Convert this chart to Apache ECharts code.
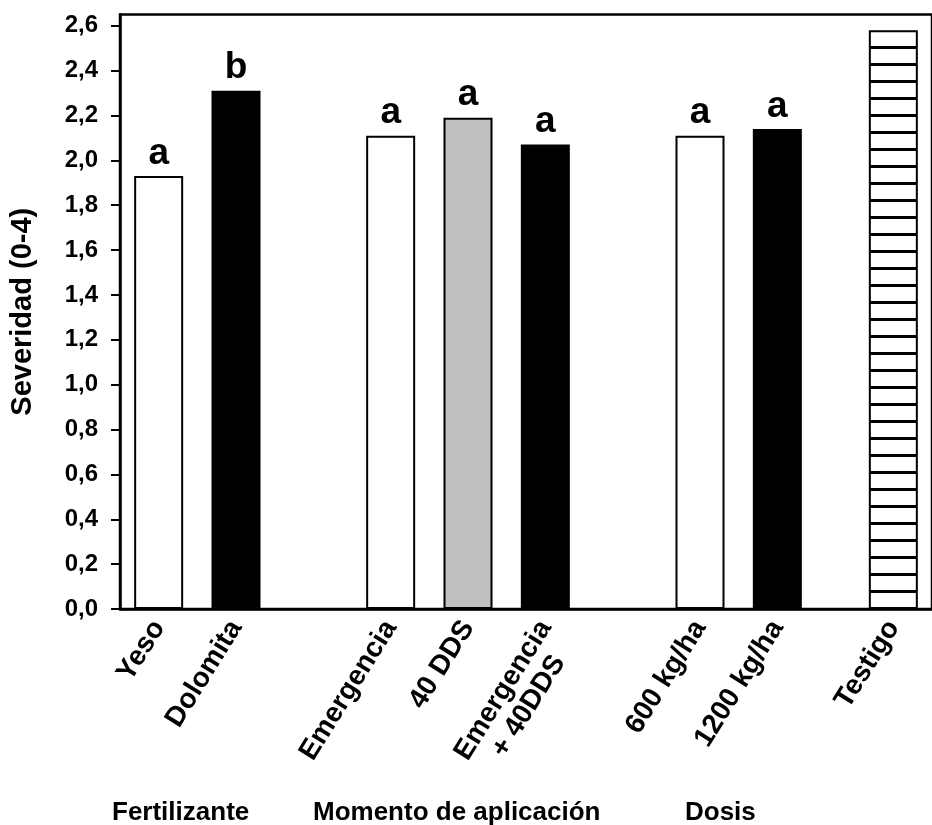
<!DOCTYPE html>
<html>
<head>
<meta charset="utf-8">
<script src="https://cdn.jsdelivr.net/npm/echarts@6/dist/echarts.min.js"></script>
<style>html,body{margin:0;padding:0;background:#fff}#c{width:932px;height:825px}</style>
</head>
<body>
<div id="c"></div>
<script>
// ---- data ----
const categories = ['Yeso', 'Dolomita', 'Emergencia', '40 DDS', 'Emergencia\n+ 40DDS', '600 kg/ha', '1200 kg/ha', 'Testigo'];
const slotPositions = [0, 1, 3, 4, 5, 7, 8, 9.5];
const severity = [1.93, 2.31, 2.11, 2.19, 2.07, 2.11, 2.14, 2.58];
const letters = ['a', 'b', 'a', 'a', 'a', 'a', 'a', ''];
const fills = ['white', 'black', 'white', 'gray', 'black', 'white', 'black', 'stripes'];
const yTicks = [0, 0.2, 0.4, 0.6, 0.8, 1.0, 1.2, 1.4, 1.6, 1.8, 2.0, 2.2, 2.4, 2.6];
const groupLabels = ['Fertilizante', 'Momento de aplicación', 'Dosis'];

// ---- styles ----
const FONT = 'Liberation Sans';
function stripePattern() {
  const cv = document.createElement('canvas');
  cv.width = 8; cv.height = 17;
  const g = cv.getContext('2d');
  g.fillStyle = '#fff'; g.fillRect(0, 0, 8, 17);
  g.fillStyle = '#000'; g.fillRect(0, 12, 8, 3);
  return { image: cv, repeat: 'repeat' };
}
const fillMap = { white: '#ffffff', black: '#000000', gray: '#c0c0c0', stripes: stripePattern() };

const chart = echarts.init(document.getElementById('c'), null, { renderer: 'canvas' });
const data = severity.map((v, i) => ({
  value: [slotPositions[i], v],
  itemStyle: { color: fillMap[fills[i]] },
  label: { formatter: letters[i] }
}));
const groupX = [112, 313, 685];

chart.setOption({
  animation: false,
  backgroundColor: '#fff',
  grid: { left: 117, top: 14.5, right: -11.5, bottom: 216, show: true, borderColor: '#000', borderWidth: 2.5, backgroundColor: 'transparent' },
  xAxis: {
    type: 'value', min: -0.5, max: 10,
    splitLine: { show: false },
    axisLine: { show: true, onZero: false, lineStyle: { color: '#000', width: 2.5 } },
    axisTick: { show: false },
    axisLabel: {
      customValues: slotPositions,
      rotate: 58, margin: 14,
      color: '#000', fontFamily: FONT, fontWeight: 'bold', fontSize: 28,
      formatter: v => {
        const i = slotPositions.indexOf(v);
        if (i < 0) return '';
        const lines = categories[i].split('\n');
        if (lines.length > 1) lines.unshift(' ');
        return lines.map(s => '{c|' + s + '}').join('\n');
      },
      rich: { c: { align: 'center', fontFamily: FONT, fontWeight: 'bold', fontSize: 28, color: '#000', lineHeight: 30 } }
    }
  },
  yAxis: {
    type: 'value', min: 0, max: 2.65,
    name: 'Severidad (0-4)', nameLocation: 'middle', nameRotate: 90, nameGap: 83,
    nameTextStyle: { color: '#000', fontFamily: FONT, fontWeight: 'bold', fontSize: 29 },
    splitLine: { show: false },
    axisLine: { show: true, onZero: false, lineStyle: { color: '#000', width: 2.5 } },
    axisTick: { show: true, customValues: yTicks, length: 9, lineStyle: { color: '#000', width: 2 } },
    axisLabel: {
      customValues: yTicks, margin: 22,
      color: '#000', fontFamily: FONT, fontWeight: 'bold', fontSize: 24,
      formatter: v => v.toFixed(1).replace('.', ',')
    }
  },
  series: [{
    type: 'bar',
    barWidth: 49,
    data: data,
    itemStyle: { borderColor: '#000', borderWidth: 2 },
    label: { show: true, position: 'top', distance: 4, color: '#000', fontFamily: FONT, fontWeight: 'bold', fontSize: 37 }
  }],
  graphic: groupLabels.map((t, i) => ({
    type: 'text', left: groupX[i], top: 800,
    style: { text: t, fill: '#000', font: 'bold 26px "' + FONT + '"' }
  }))
});
</script>
</body>
</html>
